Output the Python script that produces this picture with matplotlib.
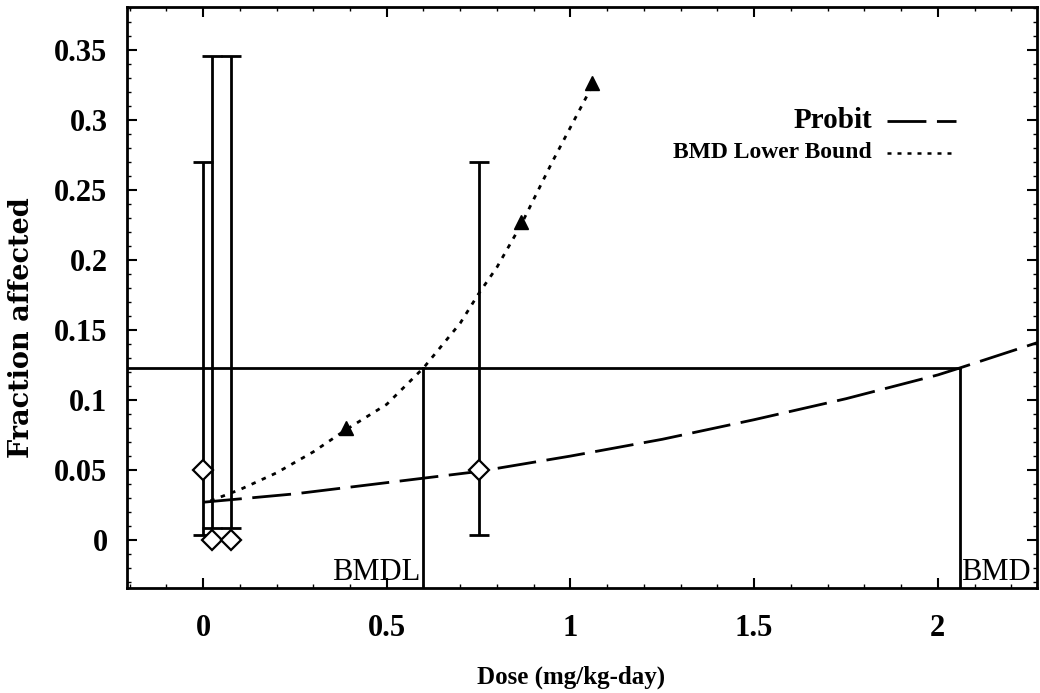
import matplotlib
matplotlib.use("Agg")
import matplotlib.pyplot as plt
from matplotlib.ticker import MultipleLocator

# Observed dose groups: dose, fraction affected, 95% confidence limits
dose = [0.0, 0.024, 0.076, 0.75]
frac = [0.05, 0.0, 0.0, 0.05]
ci_low = [0.0036, 0.0086, 0.0086, 0.0036]
ci_high = [0.27, 0.3457, 0.3457, 0.27]

# Fitted probit curve
probit_x = [0.0, 0.25, 0.5, 0.75, 1.0, 1.25, 1.5, 1.75, 2.0, 2.06, 2.27]
probit_y = [0.027, 0.033, 0.041, 0.049, 0.060, 0.072, 0.086, 0.101, 0.118, 0.123, 0.141]

# Lower-bound curve and its plotted markers
lower_x = [0.02, 0.1, 0.2, 0.3, 0.39, 0.5, 0.6, 0.7, 0.75, 0.8, 0.865, 0.95, 1.06]
lower_y = [0.028, 0.036, 0.048, 0.063, 0.079, 0.097, 0.123, 0.155, 0.176, 0.195, 0.225, 0.27, 0.325]
marker_x = [0.39, 0.865, 1.058]
marker_y = [0.08, 0.227, 0.327]

# Benchmark response and doses
bmr = 0.123
bmd = 2.06
bmdl = 0.60

xmin, xmax = -0.207, 2.27
ymin, ymax = -0.0343, 0.381

serif = ["Liberation Serif", "DejaVu Serif"]
plt.rcParams["font.family"] = serif

LONG_DASH = (14, 3.8)
DOTS = (1.6, 2.4)

fig = plt.figure(figsize=(10.4, 6.93), dpi=100)
ax = fig.add_axes([127 / 1040, 1 - 588 / 693, 910 / 1040, 581 / 693])
ax.set_xlim(xmin, xmax)
ax.set_ylim(ymin, ymax)

# Confidence intervals: bar spans from the lower to the upper limit
mid = [(lo + hi) / 2 for lo, hi in zip(ci_low, ci_high)]
half = [(hi - lo) / 2 for lo, hi in zip(ci_low, ci_high)]
ax.errorbar(dose, mid, yerr=half, fmt="none", ecolor="black", elinewidth=2.0,
            capsize=7, capthick=2.0, zorder=3)
ax.plot(dose, frac, linestyle="none", marker="D", markersize=10,
        markerfacecolor="white", markeredgecolor="black", markeredgewidth=1.6, zorder=4)

# Model curves
ax.plot(probit_x, probit_y, color="black", linewidth=2.0, dashes=LONG_DASH, zorder=2)
ax.plot(lower_x, lower_y, color="black", linewidth=2.0, dashes=DOTS, zorder=2)
ax.plot(marker_x, marker_y, linestyle="none", marker="^", markersize=10,
        color="black", zorder=4)

# BMR / BMD / BMDL reference lines
ax.plot([xmin, bmd], [bmr, bmr], color="black", linewidth=2.0, zorder=2)
ax.plot([bmdl, bmdl], [ymin, bmr], color="black", linewidth=2.0, zorder=2)
ax.plot([bmd, bmd], [ymin, bmr], color="black", linewidth=2.0, zorder=2)
ax.annotate("BMDL", xy=(bmdl, ymin), xytext=(-2, 1), textcoords="offset points",
            ha="right", va="bottom", fontsize=22)
ax.annotate("BMD", xy=(bmd, ymin), xytext=(1, 1), textcoords="offset points",
            ha="left", va="bottom", fontsize=22)

# Legend drawn as text plus sample lines, in axes coordinates
tr = ax.transAxes
def ax_xy(px, py):
    return ((px - 127) / 910, (588 - py) / 581)

x0, _ = ax_xy(887, 0)
x1, _ = ax_xy(956, 0)
_, yp = ax_xy(0, 121)
_, yb = ax_xy(0, 153)
xt, _ = ax_xy(872, 0)
ax.text(xt, yp, "Probit", transform=tr, ha="right", va="center",
        fontsize=21, fontweight="bold")
ax.plot([x0, x1], [yp, yp], transform=tr, color="black", linewidth=2.0, dashes=LONG_DASH)
ax.text(xt, yb, "BMD Lower Bound", transform=tr, ha="right", va="center",
        fontsize=17, fontweight="bold")
ax.plot([x0, x1], [yb, yb], transform=tr, color="black", linewidth=1.8, dashes=DOTS)

# Axes styling
for s in ax.spines.values():
    s.set_linewidth(2.0)
ax.xaxis.set_minor_locator(MultipleLocator(0.1))
ax.yaxis.set_minor_locator(MultipleLocator(0.01))
ax.set_xticks([0, 0.5, 1, 1.5, 2])
ax.set_xticklabels(["0", "0.5", "1", "1.5", "2"])
ax.set_yticks([0, 0.05, 0.1, 0.15, 0.2, 0.25, 0.3, 0.35])
ax.set_yticklabels(["0", "0.05", "0.1", "0.15", "0.2", "0.25", "0.3", "0.35"])
ax.tick_params(which="major", direction="in", length=7, width=1.5,
               top=True, right=True, labelsize=22, pad=14)
ax.tick_params(which="minor", direction="in", length=3, width=1.0, top=True, right=True)
for lab in ax.get_xticklabels() + ax.get_yticklabels():
    lab.set_fontweight("bold")
ax.tick_params(axis="x", pad=19)

fig.text(571 / 1040, 1 - 677 / 693, "Dose (mg/kg-day)", ha="center", va="center",
         fontsize=18, fontweight="bold")
fig.text(22 / 1040, 1 - 328 / 693, "Fraction affected", ha="center", va="center",
         rotation=90, fontsize=19.5, fontweight="bold",
         family=["DejaVu Serif", "Liberation Serif"])

fig.savefig("out.png", dpi=100)
